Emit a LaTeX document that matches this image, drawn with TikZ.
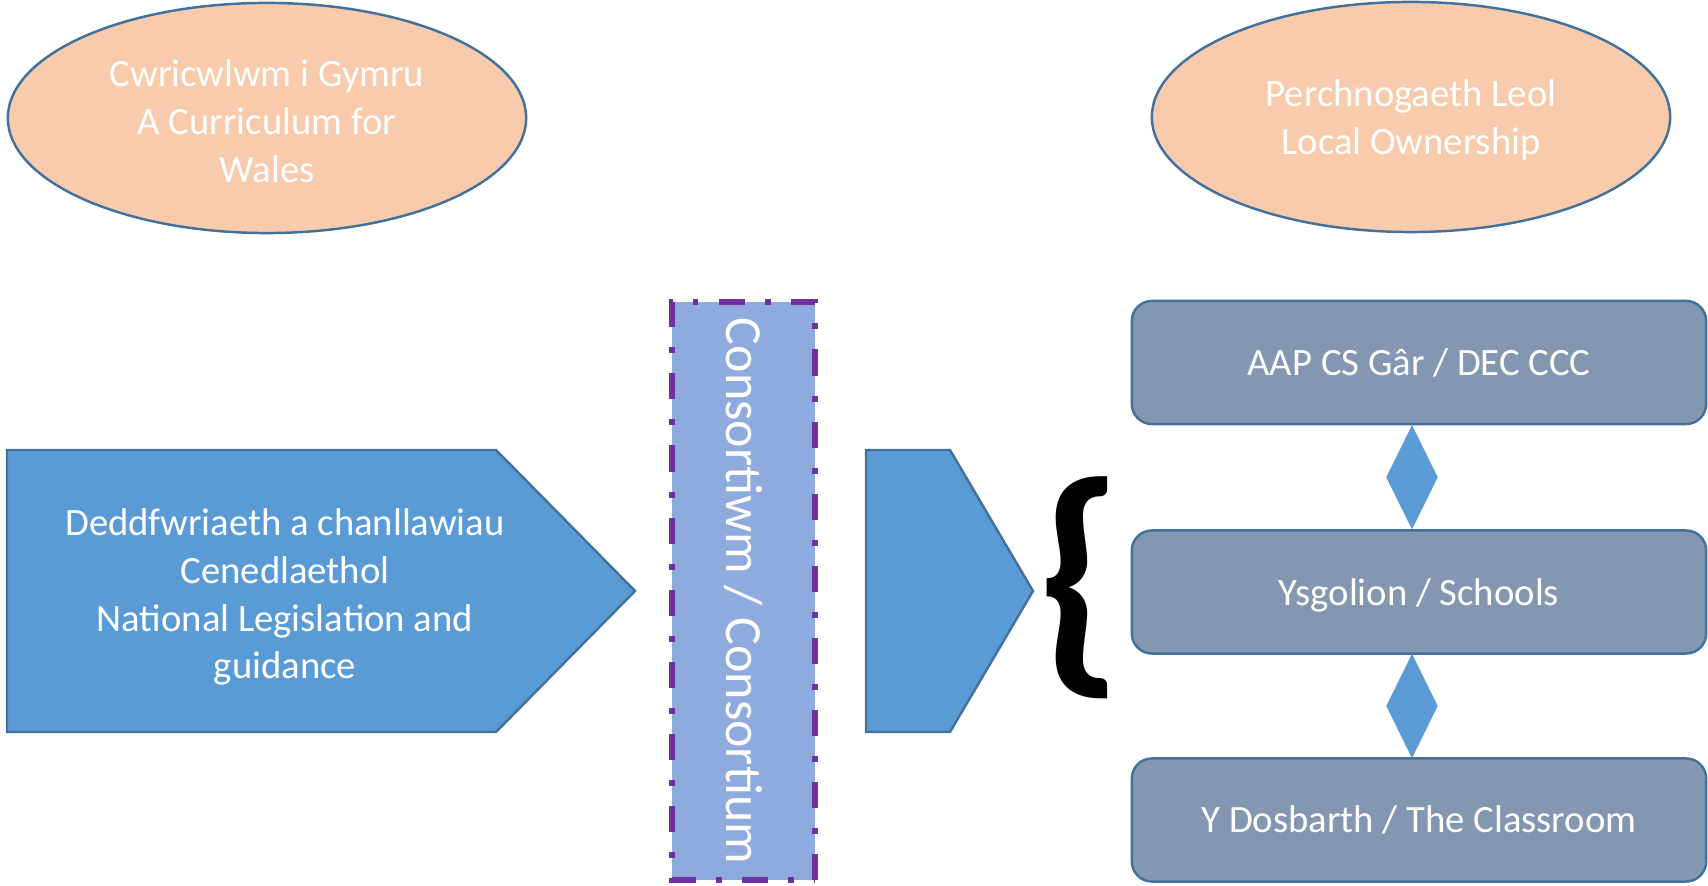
\documentclass[tikz,border=0pt]{standalone}
\usepackage{fontspec}
\setmainfont{Carlito}
\usetikzlibrary{shapes.geometric, calc}

\definecolor{peach}{HTML}{F8CBAD}
\definecolor{edgeblue}{HTML}{41719C}
\definecolor{arrowblue}{HTML}{5B9BD5}
\definecolor{consfill}{HTML}{8FAADC}
\definecolor{consedge}{HTML}{7030A0}
\definecolor{slate}{HTML}{8497B0}

\tikzset{
  oval/.style={ellipse, draw=edgeblue, fill=peach, line width=0.7pt, text=white, align=center,
    minimum width=5.18cm, minimum height=2.3cm, font=\fontsize{11}{13.6}\selectfont},
  arrowshape/.style={draw=edgeblue, fill=arrowblue, line width=0.7pt},
  levelbox/.style={draw=edgeblue, fill=slate, line width=0.7pt, rounded corners=0.2cm, text=white,
    minimum width=5.74cm, minimum height=1.23cm, font=\fontsize{11}{13.6}\selectfont},
  rhombus/.style={diamond, fill=arrowblue, inner sep=0pt, minimum width=0.52cm, minimum height=1.05cm},
  whitetext/.style={text=white, align=center, font=\fontsize{11}{13.6}\selectfont}
}

\begin{document}
\begin{tikzpicture}[x=0.01cm, y=-0.01cm]
\useasboundingbox (0,0) rectangle (1708,886);
\node[oval] (cwricwlwm) at (267,118) {};
\node[whitetext] (cwricwlwmtext) at (267,121) {Cwricwlwm i Gymru\\A Curriculum for\\Wales};
\node[oval] (perchnogaeth) at (1411,117) {};
\node[whitetext] (perchnogaethtext) at (1411,120) {Perchnogaeth Leol\\Local Ownership};

\draw[arrowshape] (7,450) -- (496,450) -- (635,591) -- (496,732) -- (7,732) -- cycle;
\node[whitetext] (deddfwriaeth) at (285,597) {Deddfwriaeth a chanllawiau\\Cenedlaethol\\National Legislation and\\guidance};

\node[rotate=-90, draw=consedge, fill=consfill, line width=1.6pt,
  dash pattern=on 7.4pt off 5.7pt on 1.7pt off 5.7pt, text=white, inner sep=1pt,
  minimum width=5.78cm, minimum height=1.43cm, font=\fontsize{14.8}{18}\selectfont]
  (consortiwm) at (743.5,591) {Consortiwm / Consortium};

\draw[arrowshape] (866,450) -- (950,450) -- (1033,591) -- (950,732) -- (866,732) -- cycle;
\node[inner sep=0pt, font=\fontsize{72}{72}\bfseries] (brace) at (1080,588) {\{};

\node[levelbox] (aap) at (1419,362.5) {AAP CS Gâr / DEC CCC};
\node[levelbox] (ysgolion) at (1419,592) {};
\node[whitetext] (ysgoliontext) at (1419,595) {Ysgolion / Schools};
\node[levelbox] (dosbarth) at (1419,820) {Y Dosbarth / The Classroom};

\node[rhombus] (link1) at ($(aap.south)!0.5!(ysgolion.north) + (-7,0)$) {};
\node[rhombus] (link2) at ($(ysgolion.south)!0.5!(dosbarth.north) + (-7,0)$) {};
\end{tikzpicture}
\end{document}
